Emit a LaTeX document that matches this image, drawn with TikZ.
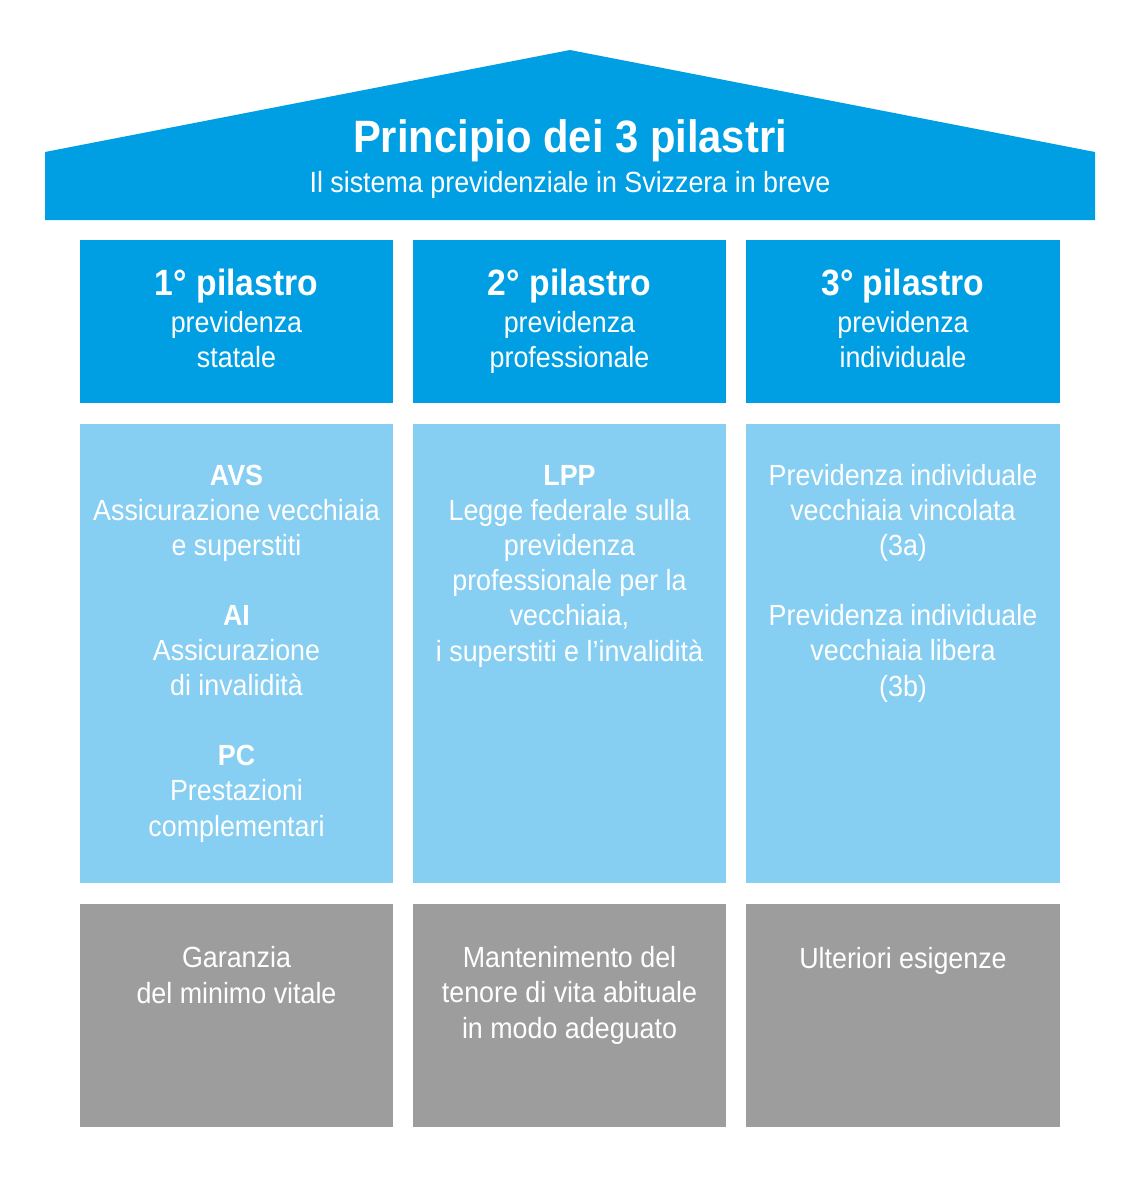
\documentclass[tikz,border=0pt]{standalone}
\usepackage{fontspec}
\setmainfont{Liberation Sans}[FakeStretch=0.92]
\definecolor{roofblue}{HTML}{009FE3}
\definecolor{lightblue}{HTML}{86CEF2}
\definecolor{greybox}{HTML}{9D9D9D}
\tikzset{
  headbox/.style={fill=roofblue, minimum width=3.13cm, minimum height=1.63cm, inner sep=0},
  bodybox/.style={fill=lightblue, minimum width=3.13cm, minimum height=4.59cm, inner sep=0},
  footbox/.style={fill=greybox, minimum width=3.13cm, minimum height=2.23cm, inner sep=0},
  coltext/.style={text=white, align=center, anchor=base, inner sep=0, font=\fontsize{8.3}{9.96}\selectfont},
  headtext/.style={text=white, align=center, anchor=base, inner sep=0, font=\fontsize{8.3}{9.7}\selectfont}
}
\begin{document}
\begin{tikzpicture}[x=0.01cm, y=-0.01cm]
		\useasboundingbox (0,0) rectangle (1140,1178);
		% roof
		\fill[roofblue] (45,220) -- (45,152) -- (570,50) -- (1095,152) -- (1095,220) -- cycle;
		\node (title) [text=white, inner sep=0, anchor=base, font=\fontsize{12.9}{14}\selectfont\bfseries] at (570,152) {Principio dei 3 pilastri};
		\node (subtitle) [text=white, inner sep=0, anchor=base, font=\fontsize{8.3}{10}\selectfont] at (570,192) {Il sistema previdenziale in Svizzera in breve};
		
		% pillar heads
		\node (head1) [headbox] at (236.5,321.5) {};
		\node (head2) [headbox] at (569.5,321.5) {};
		\node (head3) [headbox] at (903,321.5) {};
		\node (htext1) [headtext] at (236.5,367) {{\fontsize{10.4}{10}\selectfont\bfseries 1° pilastro}\\[1pt]previdenza\\statale};
		\node (htext2) [headtext] at (569.5,367) {{\fontsize{10.4}{10}\selectfont\bfseries 2° pilastro}\\[1pt]previdenza\\professionale};
		\node (htext3) [headtext] at (903,367) {{\fontsize{10.4}{10}\selectfont\bfseries 3° pilastro}\\[1pt]previdenza\\individuale};
		
		% pillar bodies
		\node (body1) [bodybox] at (236.5,653.5) {};
		\node (body2) [bodybox] at (569.5,653.5) {};
		\node (body3) [bodybox] at (903,653.5) {};
		\node (btext1) [coltext] at (236.5,836) {\textbf{AVS}\\Assicurazione vecchiaia\\e superstiti\\[9.96pt]\textbf{AI}\\Assicurazione\\di invalidità\\[9.96pt]\textbf{PC}\\Prestazioni\\complementari};
		\node (btext2) [coltext] at (569.5,661) {\textbf{LPP}\\Legge federale sulla\\previdenza\\professionale per la\\vecchiaia,\\i superstiti e l’invalidità};
		\node (btext3) [coltext] at (903,696) {Previdenza individuale\\vecchiaia vincolata\\(3a)\\[9.96pt]Previdenza individuale\\vecchiaia libera\\(3b)};
		
		% foundations
		\node (foot1) [footbox] at (236.5,1015.5) {};
		\node (foot2) [footbox] at (569.5,1015.5) {};
		\node (foot3) [footbox] at (903,1015.5) {};
		\node (ftext1) [coltext] at (236.5,1003) {Garanzia\\del minimo vitale};
		\node (ftext2) [coltext] at (569.5,1038) {Mantenimento del\\tenore di vita abituale\\in modo adeguato};
		\node (ftext3) [coltext] at (903,968) {Ulteriori esigenze};
	\end{tikzpicture}
\end{document}
